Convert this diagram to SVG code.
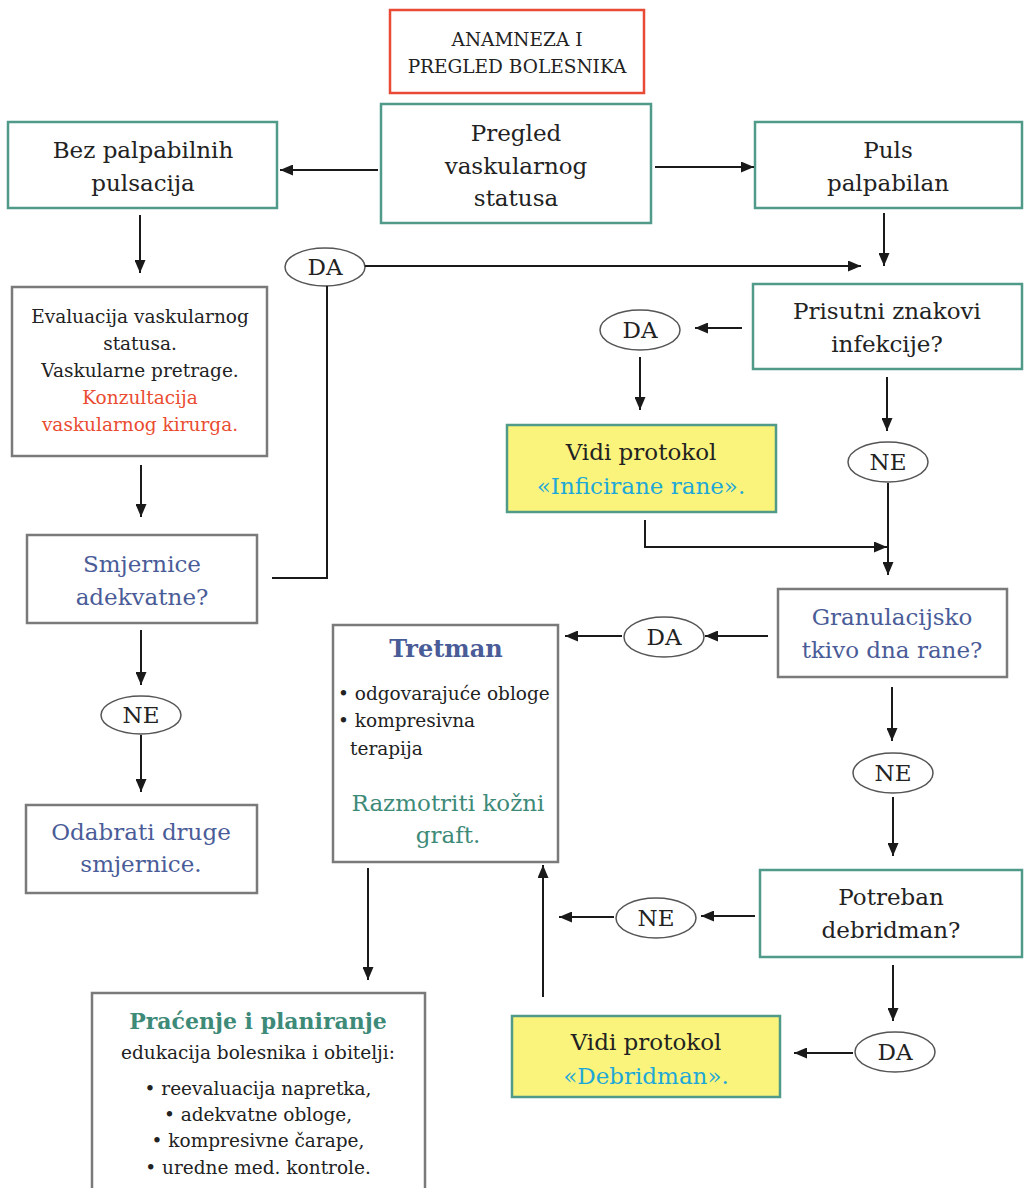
<svg xmlns="http://www.w3.org/2000/svg" width="1025" height="1188" viewBox="0 0 1025 1188">
<defs>
<marker id="ah" markerUnits="userSpaceOnUse" markerWidth="13" markerHeight="11" refX="13" refY="5.5" orient="auto">
<path d="M0,0 L13,5.5 L0,11 z" fill="#1a1a1a"/>
</marker>
</defs>
<style>
text{font-family:"DejaVu Serif","Liberation Serif",serif;text-anchor:middle;fill:#222}
.t{font-size:23px}
.s{font-size:18.5px}
.o{font-size:23px}
.box{fill:#fff;stroke-width:2.5}
.teal{stroke:#4f9a89}
.gray{stroke:#7a7a7a}
.red{stroke:#e84a35}
.yel{fill:#fbf47c;stroke:#4f9a89;stroke-width:2.5}
.ell{fill:#fff;stroke:#555;stroke-width:1.5}
.blue{fill:#4a5c98}
.cy{fill:#1ea8d8}
.rd{fill:#ea4c31}
.tl{fill:#3e8a78}
.c line,.c path{stroke:#1a1a1a;stroke-width:2;fill:none}
.a{marker-end:url(#ah)}
</style>
<rect width="1025" height="1188" fill="#fff"/>

<g id="n-anamneza">
<rect class="box red" x="390" y="10" width="254" height="83"/>
<text class="s" x="517" y="46">ANAMNEZA I</text>
<text class="s" x="517" y="73">PREGLED BOLESNIKA</text>
</g>
<g id="n-pregled">
<rect class="box teal" x="381" y="104" width="270" height="119"/>
<text class="t" x="516" y="141">Pregled</text>
<text class="t" x="516" y="174">vaskularnog</text>
<text class="t" x="516" y="206">statusa</text>
</g>
<g id="n-bez">
<rect class="box teal" x="8" y="122" width="269" height="86"/>
<text class="t" x="143" y="158">Bez palpabilnih</text>
<text class="t" x="143" y="191">pulsacija</text>
</g>
<g id="n-puls">
<rect class="box teal" x="755" y="122" width="267" height="86"/>
<text class="t" x="888" y="158">Puls</text>
<text class="t" x="888" y="191">palpabilan</text>
</g>
<g id="n-da1">
<ellipse class="ell" cx="325" cy="267" rx="40" ry="19"/>
<text class="o" x="325" y="275">DA</text>
</g>
<g id="n-evaluacija">
<rect class="box gray" x="12" y="287" width="255" height="169"/>
<text class="s" x="140" y="323">Evaluacija vaskularnog</text>
<text class="s" x="140" y="350">statusa.</text>
<text class="s" x="140" y="377">Vaskularne pretrage.</text>
<text class="s rd" x="140" y="404">Konzultacija</text>
<text class="s rd" x="140" y="431">vaskularnog kirurga.</text>
</g>
<g id="n-smjernice">
<rect class="box gray" x="27" y="535" width="230" height="88"/>
<text class="t blue" x="142" y="572">Smjernice</text>
<text class="t blue" x="142" y="605">adekvatne?</text>
</g>
<g id="n-ne1">
<ellipse class="ell" cx="141" cy="715" rx="40" ry="19"/>
<text class="o" x="141" y="723">NE</text>
</g>
<g id="n-odabrati">
<rect class="box gray" x="26" y="805" width="231" height="88"/>
<text class="t blue" x="141" y="840">Odabrati druge</text>
<text class="t blue" x="141" y="872">smjernice.</text>
</g>
<g id="n-prisutni">
<rect class="box teal" x="753" y="284" width="269" height="85"/>
<text class="t" x="887" y="319">Prisutni znakovi</text>
<text class="t" x="887" y="352">infekcije?</text>
</g>
<g id="n-da2">
<ellipse class="ell" cx="640" cy="330" rx="40" ry="20"/>
<text class="o" x="640" y="338">DA</text>
</g>
<g id="n-inficirane">
<rect class="yel" x="507" y="425" width="269" height="87"/>
<text class="t" x="641" y="460">Vidi protokol</text>
<text class="t cy" x="641" y="494">«Inficirane rane».</text>
</g>
<g id="n-ne2">
<ellipse class="ell" cx="888" cy="462" rx="40" ry="20"/>
<text class="o" x="888" y="470">NE</text>
</g>
<g id="n-granulacijsko">
<rect class="box gray" x="778" y="589" width="229" height="88"/>
<text class="t blue" x="892" y="625">Granulacijsko</text>
<text class="t blue" x="892" y="658">tkivo dna rane?</text>
</g>
<g id="n-da3">
<ellipse class="ell" cx="664" cy="637" rx="40" ry="20"/>
<text class="o" x="664" y="645">DA</text>
</g>
<g id="n-tretman">
<rect class="box gray" x="333" y="625" width="225" height="237"/>
<text class="t blue" x="446" y="657" style="font-weight:bold;font-size:24px">Tretman</text>
<text class="s" x="338" y="700" style="text-anchor:start">• odgovarajuće obloge</text>
<text class="s" x="338" y="727" style="text-anchor:start">• kompresivna</text>
<text class="s" x="350" y="755" style="text-anchor:start">terapija</text>
<text class="t tl" x="448" y="811">Razmotriti kožni</text>
<text class="t tl" x="448" y="843">graft.</text>
</g>
<g id="n-ne3">
<ellipse class="ell" cx="893" cy="773" rx="40" ry="20"/>
<text class="o" x="893" y="781">NE</text>
</g>
<g id="n-potreban">
<rect class="box teal" x="760" y="870" width="262" height="87"/>
<text class="t" x="891" y="905">Potreban</text>
<text class="t" x="891" y="938">debridman?</text>
</g>
<g id="n-ne4">
<ellipse class="ell" cx="656" cy="918" rx="40" ry="20"/>
<text class="o" x="656" y="926">NE</text>
</g>
<g id="n-da4">
<ellipse class="ell" cx="895" cy="1052" rx="40" ry="20"/>
<text class="o" x="895" y="1060">DA</text>
</g>
<g id="n-debridman">
<rect class="yel" x="512" y="1016" width="268" height="81"/>
<text class="t" x="646" y="1050">Vidi protokol</text>
<text class="t cy" x="646" y="1084">«Debridman».</text>
</g>
<g id="n-pracenje">
<rect class="box gray" x="92" y="993" width="333" height="200"/>
<text class="t tl" x="258" y="1029" style="font-weight:bold;font-size:22px">Praćenje i planiranje</text>
<text class="s" x="258" y="1059">edukacija bolesnika i obitelji:</text>
<text class="s" x="258" y="1095">• reevaluacija napretka,</text>
<text class="s" x="258" y="1121">• adekvatne obloge,</text>
<text class="s" x="258" y="1147">• kompresivne čarape,</text>
<text class="s" x="258" y="1174">• uredne med. kontrole.</text>
</g>

<g id="connectors" class="c">
<line class="a" x1="378" y1="170" x2="280" y2="170"/>
<line class="a" x1="655" y1="167" x2="754" y2="167"/>
<line class="a" x1="140" y1="215" x2="140" y2="273"/>
<line class="a" x1="884" y1="213" x2="884" y2="266"/>
<line class="a" x1="365" y1="266" x2="861" y2="266"/>
<path d="M327,286 V578 H272"/>
<line class="a" x1="141" y1="465" x2="141" y2="517"/>
<line class="a" x1="141" y1="630" x2="141" y2="685"/>
<line class="a" x1="141" y1="735" x2="141" y2="792"/>
<line class="a" x1="742" y1="328" x2="695" y2="328"/>
<line class="a" x1="640" y1="357" x2="640" y2="410"/>
<line class="a" x1="887" y1="377" x2="887" y2="431"/>
<line class="a" x1="888" y1="483" x2="888" y2="575"/>
<path class="a" d="M645,520 V547 H887"/>
<line class="a" x1="768" y1="636" x2="705" y2="636"/>
<line class="a" x1="622" y1="636" x2="565" y2="636"/>
<line class="a" x1="892" y1="687" x2="892" y2="741"/>
<line class="a" x1="893" y1="797" x2="893" y2="856"/>
<line class="a" x1="755" y1="916" x2="701" y2="916"/>
<line class="a" x1="614" y1="917" x2="559" y2="917"/>
<line class="a" x1="893" y1="965" x2="893" y2="1021"/>
<line class="a" x1="853" y1="1053" x2="794" y2="1053"/>
<line class="a" x1="543" y1="997" x2="543" y2="865"/>
<line class="a" x1="368" y1="868" x2="368" y2="980"/>
</g>
</svg>
